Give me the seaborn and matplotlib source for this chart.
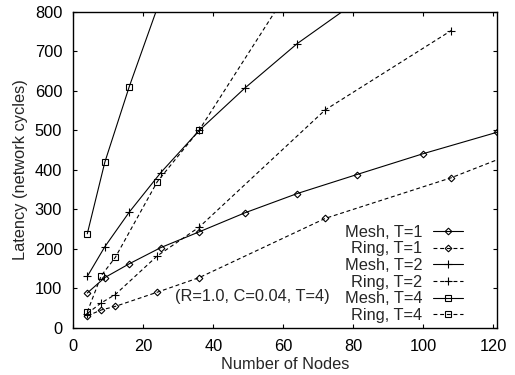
import matplotlib
matplotlib.use("Agg")
import matplotlib.pyplot as plt
import seaborn as sns
import pandas as pd

# Node counts used for each topology
mesh_nodes = [4, 9, 16, 25, 36, 49, 64, 81, 100, 121]
ring_nodes = [4, 8, 12, 24, 36, 72, 108, 144]

# Average latency in network cycles
mesh_t1 = [88, 127, 162, 203, 243, 291, 340, 388, 441, 495]
ring_t1 = [30, 45, 54, 90, 127, 277, 380, 505]
mesh_t2 = [130, 205, 293, 393, 500, 607, 720, 827]
ring_t2 = [36, 63, 84, 182, 255, 552, 753]
mesh_t4 = [238, 419, 611, 835]
ring_t4 = [40, 132, 178, 370, 501, 1000]

series = [
    ("Mesh, T=1", mesh_nodes, mesh_t1, "D", "-"),
    ("Ring, T=1", ring_nodes, ring_t1, "D", (0, (3.5, 2.5))),
    ("Mesh, T=2", mesh_nodes, mesh_t2, "+", "-"),
    ("Ring, T=2", ring_nodes, ring_t2, "+", (0, (3.5, 2.5))),
    ("Mesh, T=4", mesh_nodes, mesh_t4, "s", "-"),
    ("Ring, T=4", ring_nodes, ring_t4, "s", (0, (3.5, 2.5))),
]

sns.set_theme(style="ticks")
plt.rcParams["font.family"] = ["Liberation Sans", "DejaVu Sans"]
plt.rcParams["font.size"] = 11.8

fig = plt.figure(figsize=(5.15, 3.75), dpi=100)
ax = fig.add_axes([0.1423, 0.1261, 0.8222, 0.8419])

marker_sizes = {"D": 3.4, "+": 6.0, "s": 4.6}

for label, nodes, lat, mk, ls in series:
    df = pd.DataFrame({"nodes": nodes[:len(lat)], "latency": lat})
    sns.lineplot(data=df, x="nodes", y="latency", ax=ax, color="black",
                 linewidth=0.8, linestyle=ls, marker=mk,
                 markersize=marker_sizes[mk], markerfacecolor="none",
                 markeredgecolor="black", markeredgewidth=0.8,
                 errorbar=None, sort=False, label=label)

ax.set_xlim(0, 121)
ax.set_ylim(0, 800)
ax.set_xticks(range(0, 121, 20))
ax.set_yticks(range(0, 801, 100))

for side in ["top", "right", "left", "bottom"]:
    ax.spines[side].set_visible(True)
    ax.spines[side].set_linewidth(1.0)
    ax.spines[side].set_color("black")

ax.tick_params(direction="in", length=3, width=0.8, top=True, right=True,
               labelsize=11.8, colors="black")
ax.tick_params(axis="y", pad=8)
ax.tick_params(axis="x", pad=8)

ax.set_xlabel("Number of Nodes", fontsize=11.8, labelpad=2)
ax.set_ylabel("Latency (network cycles)", fontsize=11.8, labelpad=5)

ax.text(29.1, 80, "(R=1.0, C=0.04, T=4)", fontsize=11.8, ha="left",
        va="center")

leg = ax.legend(loc="lower right", bbox_to_anchor=(0.921, 0.015),
                frameon=False, markerfirst=False, fontsize=11.8,
                handlelength=1.85, handletextpad=0.65, labelspacing=0.1,
                borderpad=0, borderaxespad=0)

fig.savefig("out.png", dpi=100)
